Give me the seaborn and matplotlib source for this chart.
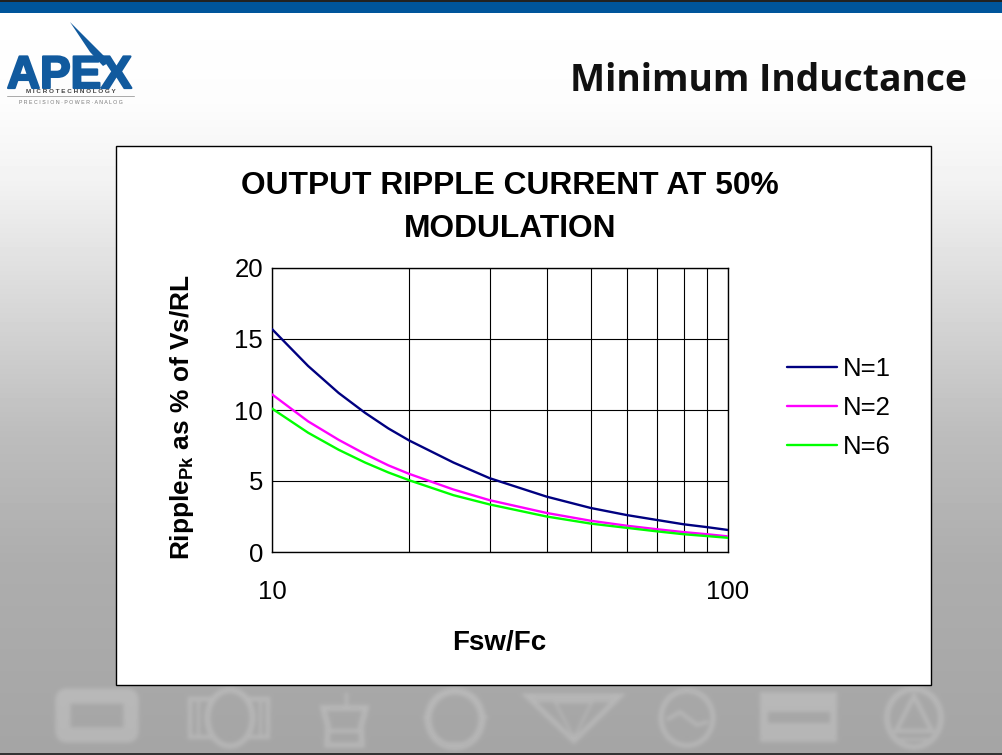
import numpy as np
import pandas as pd
import matplotlib
matplotlib.use("Agg")
import matplotlib.pyplot as plt
import matplotlib.patheffects as pe
from matplotlib.patches import Rectangle, Ellipse, Polygon, FancyBboxPatch
from matplotlib.ticker import FixedLocator, NullFormatter, FixedFormatter
import seaborn as sns

fsw_fc = [10, 12, 14, 16, 18, 20, 25, 30, 40, 50, 60, 70, 80, 90, 100]
n1 = [15.7, 13.1, 11.2, 9.8, 8.7, 7.85, 6.3, 5.2, 3.9, 3.1, 2.6, 2.25, 1.95, 1.75, 1.55]
n2 = [11.1, 9.2, 7.9, 6.9, 6.1, 5.5, 4.4, 3.65, 2.75, 2.2, 1.85, 1.6, 1.4, 1.25, 1.1]
n6 = [10.1, 8.4, 7.2, 6.3, 5.6, 5.05, 4.0, 3.35, 2.5, 2.0, 1.7, 1.45, 1.25, 1.12, 1.0]
series_names = ["N=1", "N=2", "N=6"]
series_colors = ["#000080", "#ff00ff", "#00ff00"]
x_minor = [20, 30, 40, 50, 60, 70, 80, 90]
y_ticks = [0, 5, 10, 15, 20]

sns.set_theme(style="white")
plt.rcParams["font.family"] = ["Liberation Sans", "DejaVu Sans"]
plt.rcParams["mathtext.fontset"] = "custom"
plt.rcParams["mathtext.bf"] = "Liberation Sans:bold"

df = pd.DataFrame({
    "x": fsw_fc * 3,
    "y": n1 + n2 + n6,
    "N": [s for s in series_names for _ in fsw_fc],
})

W, H = 1002, 755


def icon_mask():
    # draw the footer icons white on black, then blur them
    f = plt.figure(figsize=(W / 100, H / 100), dpi=100, facecolor="black")
    a = f.add_axes([0, 0, 1, 1])
    a.set_xlim(0, W)
    a.set_ylim(H, 0)
    a.axis("off")
    a.set_facecolor("black")
    w = dict(fc="none", ec="white")
    a.add_patch(FancyBboxPatch((63, 696), 68, 39, boxstyle="round,pad=0,rounding_size=4", lw=11, **w))
    a.add_patch(Rectangle((190, 699), 78, 38, lw=3, **w))
    a.plot([198, 198], [699, 737], color="white", lw=2)
    a.plot([260, 260], [699, 737], color="white", lw=2)
    a.add_patch(Ellipse((230, 718), 45, 56, fc="black", ec="white", lw=4))
    a.add_patch(Polygon([(323, 708), (366, 708), (361, 726), (362, 745), (327, 745), (328, 726)], lw=4, **w))
    a.plot([328, 361], [731, 731], color="white", lw=3)
    a.plot([346, 346], [693, 704], color="white", lw=2)
    a.add_patch(Ellipse((455, 719), 54, 56, lw=5, **w))
    a.add_patch(Polygon([(423, 717), (430, 710), (430, 726)], fc="white", lw=0))
    a.add_patch(Polygon([(488, 717), (480, 710), (480, 726)], fc="white", lw=0))
    a.add_patch(Polygon([(455, 750), (446, 742), (464, 742)], fc="white", lw=0))
    a.add_patch(Polygon([(527, 696), (620, 696), (574, 741)], lw=3.5, **w))
    a.add_patch(Polygon([(555, 702), (592, 702), (574, 738)], lw=1.5, **w))
    a.plot([535, 615], [700, 700], color="white", lw=2)
    a.add_patch(Ellipse((687, 718), 52, 55, lw=3.5, **w))
    a.plot([668, 680, 697, 707], [719, 712, 725, 722], color="white", lw=2.5)
    a.add_patch(Rectangle((760, 692), 77, 50, fc="white", lw=0))
    a.add_patch(Rectangle((768, 712), 62, 11, fc="black", lw=0))
    a.add_patch(Ellipse((914, 718), 54, 58, lw=4, **w))
    a.add_patch(Polygon([(914, 696), (896, 731), (932, 731)], lw=3, **w))
    a.plot([898, 930], [739, 739], color="white", lw=2)
    f.canvas.draw()
    m = np.asarray(f.canvas.buffer_rgba())[:, :, 0] / 255.0
    plt.close(f)
    t = np.arange(-6, 7)
    k = np.exp(-t ** 2 / (2 * 2.0 ** 2))
    k = k / k.sum()
    m = np.apply_along_axis(lambda r: np.convolve(r, k, mode="same"), 0, m)
    m = np.apply_along_axis(lambda r: np.convolve(r, k, mode="same"), 1, m)
    return m


fig = plt.figure(figsize=(W / 100, H / 100), dpi=100)

# slide background, in pixel coordinates
bg = fig.add_axes([0, 0, 1, 1], zorder=0)
bg.set_xlim(0, W)
bg.set_ylim(H, 0)
bg.axis("off")
stops_y = [0, 100, 180, 300, 433, 560, 755]
stops_v = [1.0, 0.99, 0.95, 0.85, 0.74, 0.68, 0.645]
grad = np.interp(np.arange(H), stops_y, stops_v).reshape(-1, 1) * np.ones((H, W))
grad = grad + 0.065 * icon_mask()
bg.imshow(grad, cmap="gray", vmin=0, vmax=1, extent=[0, W, H, 0], aspect="auto")
bg.add_patch(Rectangle((0, 0), W, 13, color="#00559b", lw=0))
bg.add_patch(Rectangle((0, 0), W, 1.5, color="#222222", lw=0))
bg.add_patch(Rectangle((0, 752.5), W, 3, color="#333333", lw=0))

# logo
logo_blue = "#115a9e"
bg.text(69.5, 88, "APEX", color=logo_blue, fontsize=33, fontweight="bold", ha="center",
        va="baseline", path_effects=[pe.withStroke(linewidth=1.6, foreground=logo_blue)])
bg.add_patch(Polygon([(70, 22), (110, 62), (103, 66), (90, 52)], color=logo_blue, lw=0))
bg.text(70.5, 91.5, "M I C R O T E C H N O L O G Y", color="#444444", fontsize=4.6,
        fontweight="bold", ha="center", va="center")
bg.plot([7, 134], [96, 96], color="#aaaaaa", lw=0.7)
bg.text(70.5, 102, "P R E C I S I O N · P O W E R · A N A L O G", color="#777777", fontsize=3.8,
        ha="center", va="center")

bg.text(967, 81, "Minimum Inductance", family=["Open Sans", "DejaVu Sans"], fontsize=26.8,
        fontweight="bold", color="#111111", ha="right", va="center")

bg.add_patch(Rectangle((116, 146), 815, 539, fc="white", ec="black", lw=1, zorder=5))

# the chart
ax = fig.add_axes([272 / W, (H - 552) / H, 456 / W, 284 / H], zorder=2)
sns.lineplot(data=df, x="x", y="y", hue="N", palette=series_colors, linewidth=1.7,
             ax=ax, errorbar=None, zorder=3)
ax.set_xscale("log")
ax.set_xlim(10, 100)
ax.set_ylim(0, 20)
ax.set_yticks(y_ticks)
ax.xaxis.set_major_locator(FixedLocator([10, 100]))
ax.xaxis.set_major_formatter(FixedFormatter(["10", "100"]))
ax.xaxis.set_minor_locator(FixedLocator(x_minor))
ax.xaxis.set_minor_formatter(NullFormatter())
ax.grid(True, axis="both", which="major", color="black", lw=0.8)
ax.grid(True, axis="x", which="minor", color="black", lw=0.8)
ax.tick_params(axis="both", which="both", length=0, labelsize=18.5, colors="black")
ax.tick_params(axis="y", pad=6.5)
ax.tick_params(axis="x", pad=20)
for s in ax.spines.values():
    s.set_color("black")
    s.set_linewidth(1)
ax.set_xlabel("Fsw/Fc", fontsize=20, fontweight="bold", color="black")
ax.xaxis.set_label_coords(0.499, -0.275)
ax.set_ylabel(r"Ripple$_{\mathbf{Pk}}$ as % of Vs/RL", fontsize=18.9, fontweight="bold",
              color="black")
ax.yaxis.set_label_coords(-0.167, 0.475)
fig.text(510 / W, 1 - 207.5 / H, "OUTPUT RIPPLE CURRENT AT 50%\nMODULATION", fontsize=22.9,
         fontweight="bold", color="black", ha="center", va="center", linespacing=1.56, zorder=6)

handles, labels = ax.get_legend_handles_labels()
ax.legend(handles, labels, loc="center left", bbox_to_anchor=(1.129, 0.507), frameon=False,
          fontsize=18.5, handlelength=1.95, handletextpad=0.25, labelspacing=0.6,
          borderpad=0, borderaxespad=0, labelcolor="black")

fig.savefig("out.png", dpi=100)
